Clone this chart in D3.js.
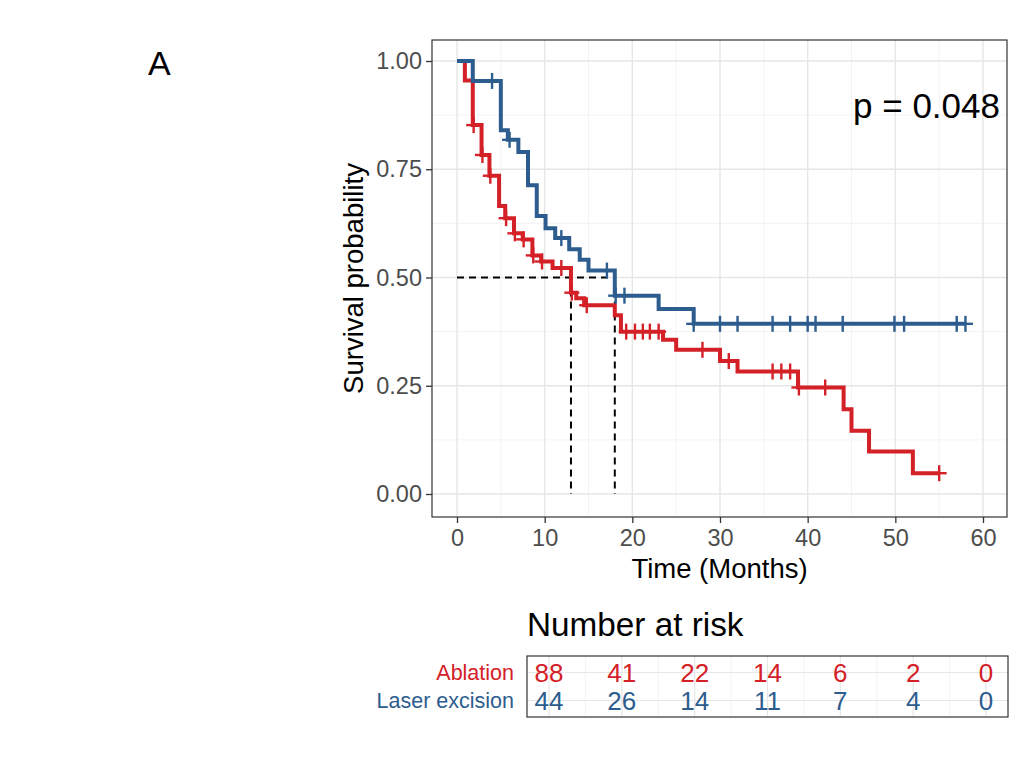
<!DOCTYPE html>
<html><head><meta charset="utf-8">
<script src="https://cdn.jsdelivr.net/npm/d3@7"></script>
<style>
body{margin:0;background:#fff;}
text{font-family:"Liberation Sans",Arial,Helvetica,sans-serif;}
</style>
</head><body>
<script>
// ---------------- data ----------------
const groups = ["Ablation", "Laser excision"];
const groupColors = ["#D42027", "#2D5D8E"];

// Kaplan-Meier steps: [time (months), survival after the drop]
const ablationSteps = [[0.9,0.955],[1.8,0.852],[2.8,0.783],[3.7,0.735],[4.8,0.665],[5.5,0.637],[6.5,0.602],[7.5,0.588],[8.6,0.551],[9.6,0.537],[10.9,0.522],[13.0,0.465],[13.6,0.452],[14.5,0.436],[18.0,0.413],[18.7,0.375],[23.5,0.356],[25.0,0.333],[30.0,0.307],[32.0,0.283],[38.9,0.246],[44.1,0.196],[45.0,0.146],[47.0,0.098],[52.0,0.048]];
const ablationCensors = [1.9,2.9,3.8,5.6,6.6,7.6,8.7,9.7,11.9,13.1,14.8,19.3,20.3,21.2,22.0,23.0,28.0,31.0,36.0,37.0,38.0,39.0,42.0,55.0];
const ablationEnd = 55.0;

const laserSteps = [[1.8,0.954],[5.0,0.840],[5.8,0.818],[7.0,0.790],[8.1,0.713],[9.1,0.642],[10.1,0.614],[11.2,0.591],[12.8,0.565],[14.0,0.541],[15.0,0.516],[18.0,0.458],[23.0,0.427],[27.0,0.393]];
const laserCensors = [4.0,6.0,11.9,17.1,18.1,19.1,27.0,30.0,32.0,36.0,38.0,40.0,40.9,44.0,49.9,51.0,57.0,58.0];
const laserEnd = 58.0;

const medianTimes = [13, 18];
const medianLevel = 0.5;

const xTicks = [0,10,20,30,40,50,60];
const xMinor = [5,15,25,35,45,55];
const yTicks = [0,0.25,0.5,0.75,1];
const yMinor = [0.125,0.375,0.625,0.875];

const riskTimes = [0,10,20,30,40,50,60];
const ablationRisk = [88,41,22,14,6,2,0];
const laserRisk = [44,26,14,11,7,4,0];

const pValueLabel = "p = 0.048";
const panelLabel = "A";

// ---------------- layout ----------------
const W = 1035, H = 761;
const P = {left:432, right:1007, top:40, bottom:517};
const T = {left:527, right:1008, top:656, bottom:717};

const svg = d3.select("body").append("svg").attr("width", W).attr("height", H);
svg.append("rect").attr("width", W).attr("height", H).attr("fill", "#fff");

const x = d3.scaleLinear().domain([0,60]).range([457,983]);
const y = d3.scaleLinear().domain([0,1]).range([494,61]);

const series = [
  {name:groups[0], color:groupColors[0], steps:ablationSteps, censors:ablationCensors, end:ablationEnd},
  {name:groups[1], color:groupColors[1], steps:laserSteps, censors:laserCensors, end:laserEnd}
];

// grid
const g = svg.append("g");
g.selectAll(".vmin").data(xMinor).enter().append("line")
  .attr("x1", d=>x(d)).attr("x2", d=>x(d)).attr("y1", P.top).attr("y2", P.bottom)
  .attr("stroke", "#f0f0f0").attr("stroke-width", 0.8);
g.selectAll(".hmin").data(yMinor).enter().append("line")
  .attr("y1", d=>y(d)).attr("y2", d=>y(d)).attr("x1", P.left).attr("x2", P.right)
  .attr("stroke", "#f0f0f0").attr("stroke-width", 0.8);
g.selectAll(".vmaj").data(xTicks).enter().append("line")
  .attr("x1", d=>x(d)).attr("x2", d=>x(d)).attr("y1", P.top).attr("y2", P.bottom)
  .attr("stroke", "#e6e6e6").attr("stroke-width", 1.4);
g.selectAll(".hmaj").data(yTicks).enter().append("line")
  .attr("y1", d=>y(d)).attr("y2", d=>y(d)).attr("x1", P.left).attr("x2", P.right)
  .attr("stroke", "#e6e6e6").attr("stroke-width", 1.4);

// median lines
const med = svg.append("g").attr("stroke", "#000").attr("stroke-width", 2).attr("stroke-dasharray", "7,5").attr("fill", "none");
med.append("line").attr("x1", x(0)).attr("x2", x(d3.max(medianTimes))).attr("y1", y(medianLevel)).attr("y2", y(medianLevel));
med.selectAll(".mv").data(medianTimes).enter().append("line")
  .attr("x1", d=>x(d)).attr("x2", d=>x(d)).attr("y1", y(medianLevel)).attr("y2", y(0));

// curves
const line = d3.line().x(d=>x(d[0])).y(d=>y(d[1])).curve(d3.curveStepAfter);
function survAt(steps, t){ let s = 1; for(const st of steps){ if(st[0] <= t) s = st[1]; } return s; }

series.forEach(s => {
  const pts = [[0,1]].concat(s.steps);
  pts.push([s.end, s.steps[s.steps.length-1][1]]);
  svg.append("path").attr("d", line(pts)).attr("fill", "none")
    .attr("stroke", s.color).attr("stroke-width", 4).attr("stroke-linejoin", "miter");
  const cg = svg.append("g").attr("stroke", s.color).attr("stroke-width", 2.4);
  s.censors.forEach(t => {
    const cx = x(t), cy = y(survAt(s.steps, t));
    cg.append("line").attr("x1", cx-7.5).attr("x2", cx+7.5).attr("y1", cy).attr("y2", cy);
    cg.append("line").attr("x1", cx).attr("x2", cx).attr("y1", cy-8).attr("y2", cy+8);
  });
});

// panel border
svg.append("rect").attr("x", P.left).attr("y", P.top).attr("width", P.right-P.left).attr("height", P.bottom-P.top)
  .attr("fill", "none").attr("stroke", "#333").attr("stroke-width", 1.2);

// axes
const yAxis = svg.append("g").attr("transform", `translate(${P.left},0)`)
  .call(d3.axisLeft(y).tickValues(yTicks).tickFormat(d3.format(".2f")).tickSize(6).tickPadding(4));
const xAxis = svg.append("g").attr("transform", `translate(0,${P.bottom})`)
  .call(d3.axisBottom(x).tickValues(xTicks).tickFormat(d3.format("d")).tickSize(6).tickPadding(6));
[xAxis, yAxis].forEach(a => {
  a.select(".domain").remove();
  a.selectAll(".tick line").attr("stroke", "#333").attr("stroke-width", 1.3);
  a.selectAll(".tick text").attr("fill", "#4d4d4d").style("font-size", "23.5px")
    .style("font-family", '"Liberation Sans",Arial,sans-serif');
});

// titles
svg.append("text").attr("x", (P.left+P.right)/2).attr("y", 578).attr("text-anchor", "middle")
  .style("font-size", "27.5px").attr("fill", "#000").text("Time (Months)");
svg.append("text").attr("transform", `translate(363,${(P.top+P.bottom)/2}) rotate(-90)`).attr("text-anchor", "middle")
  .style("font-size", "27.5px").attr("fill", "#000").text("Survival probability");
svg.append("text").attr("x", 1000).attr("y", 118).attr("text-anchor", "end")
  .style("font-size", "35px").attr("fill", "#000").text(pValueLabel);
svg.append("text").attr("x", 148).attr("y", 75).style("font-size", "34px").attr("fill", "#000").text(panelLabel);

// ---------------- risk table ----------------
const tx = d3.scaleLinear().domain([0,60]).range([549,986]);
const ty = d3.scalePoint().domain(groups).range([672.5,700.5]);

svg.append("text").attr("x", T.left).attr("y", 636).style("font-size", "33.3px").attr("fill", "#000").text("Number at risk");

const tg = svg.append("g");
tg.selectAll(".tvmin").data(xMinor).enter().append("line")
  .attr("x1", d=>tx(d)).attr("x2", d=>tx(d)).attr("y1", T.top).attr("y2", T.bottom)
  .attr("stroke", "#f0f0f0").attr("stroke-width", 0.8);
tg.selectAll(".tvmaj").data(xTicks).enter().append("line")
  .attr("x1", d=>tx(d)).attr("x2", d=>tx(d)).attr("y1", T.top).attr("y2", T.bottom)
  .attr("stroke", "#e6e6e6").attr("stroke-width", 1.2);
tg.selectAll(".thmaj").data(groups).enter().append("line")
  .attr("y1", d=>ty(d)).attr("y2", d=>ty(d)).attr("x1", T.left).attr("x2", T.right)
  .attr("stroke", "#e6e6e6").attr("stroke-width", 1.2);

const riskRows = [
  {name:groups[0], color:groupColors[0], vals:ablationRisk},
  {name:groups[1], color:groupColors[1], vals:laserRisk}
];
riskRows.forEach(r => {
  svg.append("text").attr("x", T.left-13).attr("y", ty(r.name)).attr("dy", "0.36em")
    .attr("text-anchor", "end").style("font-size", "21.5px").attr("fill", r.color).text(r.name);
  svg.append("g").selectAll("text").data(r.vals).enter().append("text")
    .attr("x", (d,i)=>tx(riskTimes[i])).attr("y", ty(r.name)).attr("dy", "0.36em")
    .attr("text-anchor", "middle").style("font-size", "26px").attr("fill", r.color).text(d=>d);
});

svg.append("rect").attr("x", T.left).attr("y", T.top).attr("width", T.right-T.left).attr("height", T.bottom-T.top)
  .attr("fill", "none").attr("stroke", "#333").attr("stroke-width", 1.2);
</script>
</body></html>
